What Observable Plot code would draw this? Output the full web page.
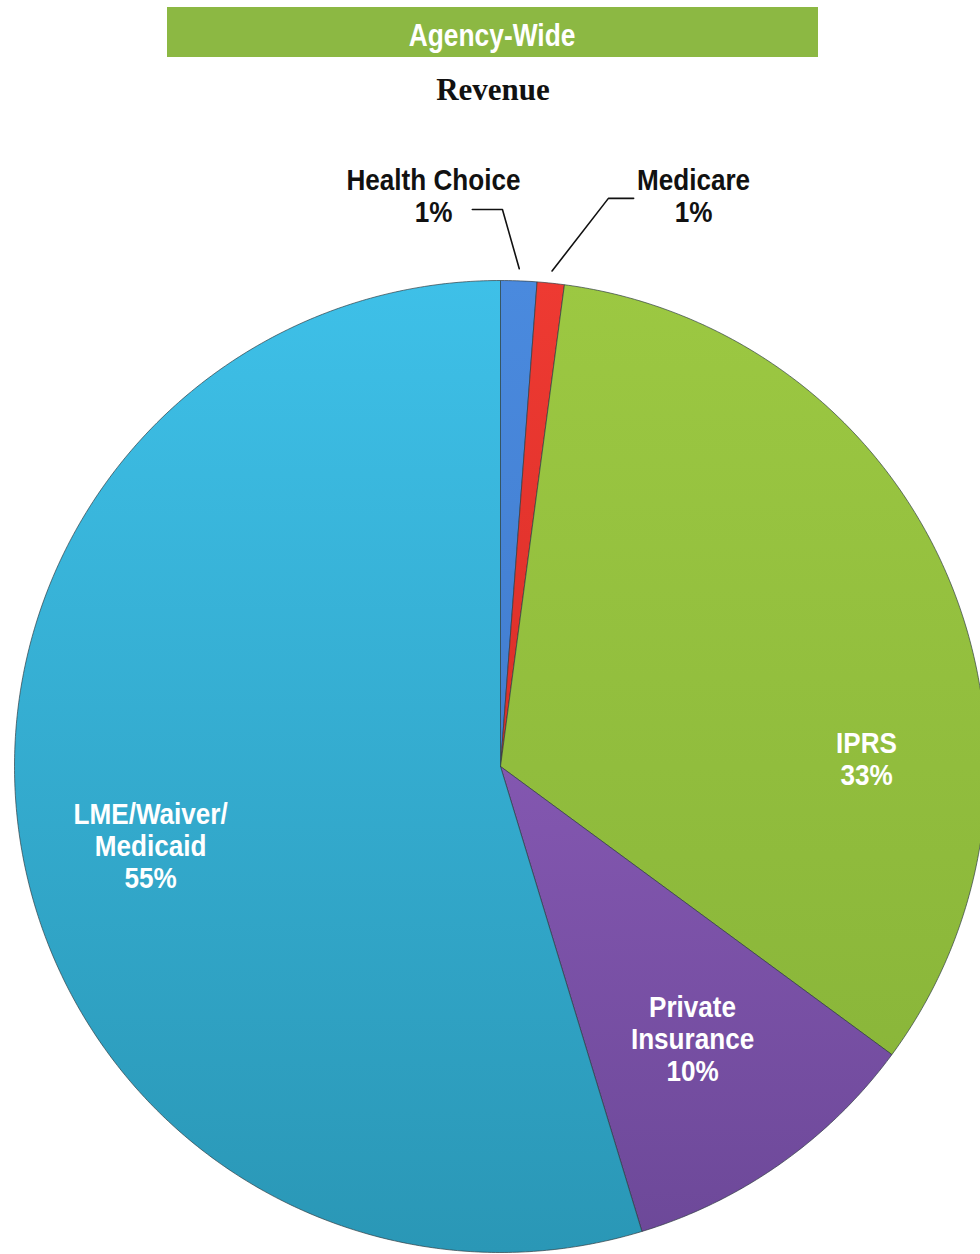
<!DOCTYPE html>
<html>
<head>
<meta charset="utf-8">
<script src="https://cdn.jsdelivr.net/npm/d3@7"></script>
<script src="https://cdn.jsdelivr.net/npm/@observablehq/plot@0.6"></script>
<style>
  html, body { margin: 0; padding: 0; background: #fff; }
  #page { width: 980px; }
  #header { position: relative; width: 980px; height: 115px; }
  #bar { position: absolute; left: 167px; top: 7px; width: 651px; height: 50px; background: #8cb843;
         color: #fff; font: bold 31px "Liberation Sans", Arial, sans-serif;
         display: flex; align-items: center; justify-content: center; box-sizing: border-box; padding-top: 8px; }
  #bar span { display: inline-block; transform: scaleX(0.85); }
  #sub { position: absolute; left: 0; width: 986px; top: 72px; text-align: center;
         font: bold 31px "Liberation Serif", "Times New Roman", serif; color: #111; }
  #chart svg { display: block; }
</style>
</head>
<body>
<div id="page">
  <div id="header">
    <div id="bar"><span>Agency-Wide</span></div>
    <div id="sub">Revenue</div>
  </div>
  <div id="chart"></div>
</div>
<script>
// ---- data ----
const categories = ["Health Choice", "Medicare", "IPRS", "Private Insurance", "LME/Waiver/Medicaid"];
const shares = [1.2, 0.9, 33.0, 10.2, 54.7];          // slice sizes (percent of revenue)
const percentLabels = ["1%", "1%", "33%", "10%", "55%"];
const labelNames = ["Health Choice", "Medicare", "IPRS", "Private\nInsurance", "LME/Waiver/\nMedicaid"];

// ---- styling / layout ----
const gradients = {
  "Health Choice": ["#4a8ade", "#3a70c0"],
  "Medicare": ["#ee3a32", "#c82420"],
  "IPRS": ["#9cc842", "#86b238"],
  "Private Insurance": ["#9a66c8", "#6c4898"],
  "LME/Waiver/Medicaid": ["#3ec0e8", "#2a97b6"]
};
const W = 980, H = 1139;
const cx = 500, cy = 651, R = 486;

// build slice polygons (unit circle coordinates, angle clockwise from 12 o'clock)
const total = d3.sum(shares);
let acc = 0;
const slices = categories.map((name, i) => {
  const a0 = acc / total * 2 * Math.PI;
  acc += shares[i];
  const a1 = acc / total * 2 * Math.PI;
  return {name, i, a0, a1, mid: (a0 + a1) / 2};
});
const pts = [];
for (const s of slices) {
  pts.push({name: s.name, x: 0, y: 0});
  const n = Math.max(4, Math.ceil((s.a1 - s.a0) / (Math.PI / 360)));
  for (let k = 0; k <= n; ++k) {
    const a = s.a0 + (s.a1 - s.a0) * k / n;
    pts.push({name: s.name, x: Math.sin(a), y: Math.cos(a)});
  }
  pts.push({name: s.name, x: 0, y: 0});
}

// label positions (unit coords) and leader lines for the thin slices
const labelAt = {
  "Health Choice": [-0.138, 1.175],
  "Medicare": [0.397, 1.175],
  "IPRS": [0.753, 0.016],
  "Private Insurance": [0.395, -0.56],
  "LME/Waiver/Medicaid": [-0.72, -0.163]
};
const labels = categories.map((c, i) => ({
  name: c, text: labelNames[i] + "\n" + percentLabels[i],
  x: labelAt[c][0], y: labelAt[c][1],
  outside: i < 2
}));
const leaderElbow = {"Health Choice": [[0.004, 1.146], [-0.058, 1.146]], "Medicare": [[0.222, 1.169], [0.274, 1.169]]};
const leaders = [];
for (const s of slices.slice(0, 2)) {
  leaders.push({name: s.name, x: Math.sin(s.mid) * 1.025, y: Math.cos(s.mid) * 1.025});
  for (const [x, y] of leaderElbow[s.name]) leaders.push({name: s.name, x, y});
}

const font = '"Liberation Sans", Arial, sans-serif';

const plot = Plot.plot({
  width: W, height: H, margin: 0,
  x: {domain: [-1, 1], range: [cx - R, cx + R], axis: null},
  y: {domain: [-1, 1], range: [cy + R, cy - R], axis: null},
  style: {background: "transparent"},
  marks: [
    ...slices.map(s => Plot.line(pts.filter(p => p.name === s.name), {
      x: "x", y: "y", fill: `url(#g${s.i})`, stroke: "#2d3a40", strokeWidth: 0.9, strokeOpacity: 0.75
    })),
    Plot.line(leaders, {x: "x", y: "y", z: "name", stroke: "#111", strokeWidth: 1.6}),
    Plot.text(labels, {
      x: "x", y: "y", text: "text", lineHeight: 1.08,
      fill: d => d.outside ? "#111" : "#fff",
      fontSize: 30, fontWeight: "bold", fontFamily: font
    })
  ]
});

// gradient definitions referenced by the slices
const svgNS = "http://www.w3.org/2000/svg";
const defs = document.createElementNS(svgNS, "defs");
slices.forEach(s => {
  const g = document.createElementNS(svgNS, "linearGradient");
  g.setAttribute("id", "g" + s.i);
  g.setAttribute("gradientUnits", "userSpaceOnUse");
  g.setAttribute("x1", cx); g.setAttribute("x2", cx);
  g.setAttribute("y1", cy - R); g.setAttribute("y2", cy + R);
  const [c0, c1] = gradients[s.name];
  [[0, c0], [1, c1]].forEach(([o, c]) => {
    const st = document.createElementNS(svgNS, "stop");
    st.setAttribute("offset", o); st.setAttribute("stop-color", c);
    g.appendChild(st);
  });
  defs.appendChild(g);
});
plot.insertBefore(defs, plot.firstChild);
document.getElementById("chart").appendChild(plot);

// condensed look: narrow each label horizontally about its own centre
const svgBox = plot.getBoundingClientRect();
plot.querySelectorAll('g[aria-label="text"] text').forEach(t => {
  const b = t.getBoundingClientRect();
  const mx = b.x + b.width / 2 - svgBox.x;
  const g = document.createElementNS(svgNS, "g");
  g.setAttribute("transform", `translate(${mx},0) scale(0.87,1) translate(${-mx},0)`);
  t.parentNode.insertBefore(g, t);
  g.appendChild(t);
});
</script>
</body>
</html>
